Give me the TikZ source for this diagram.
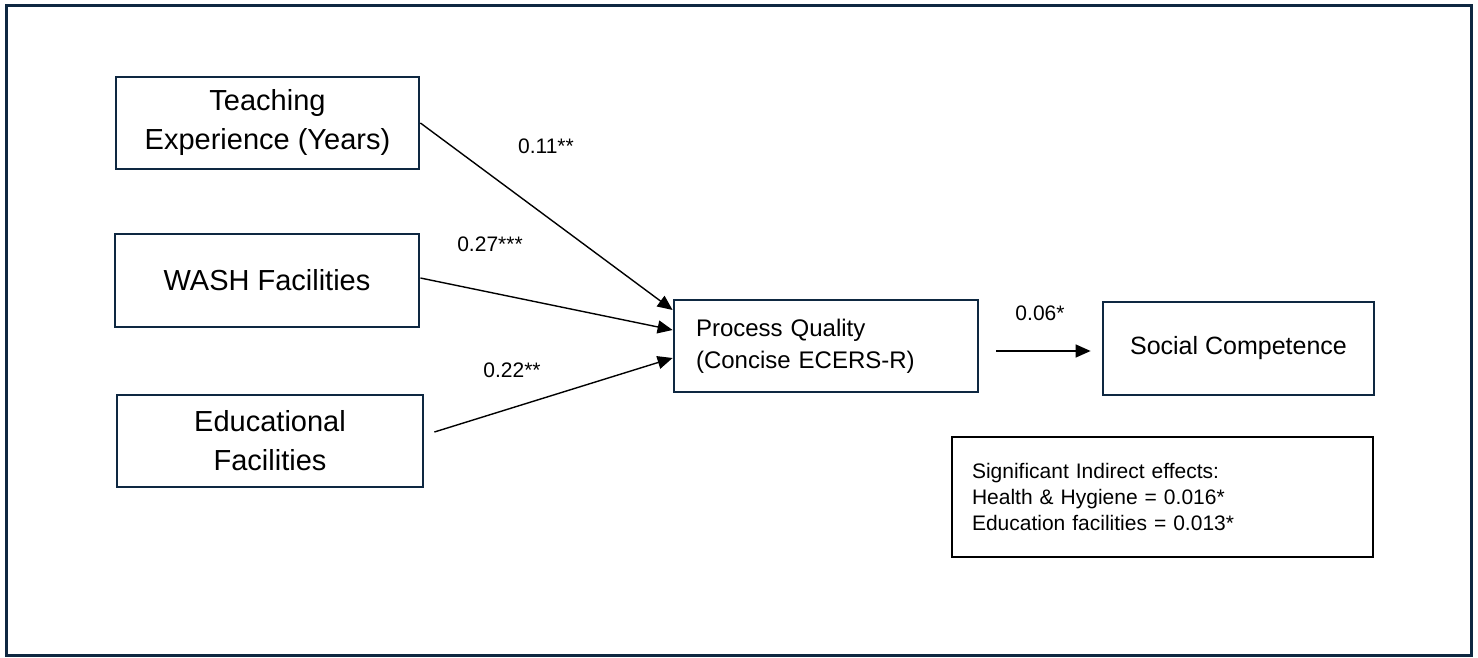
\documentclass[tikz,border=0pt]{standalone}
\usepackage{fontspec}
\setmainfont{Liberation Sans}
\usetikzlibrary{arrows.meta}
\definecolor{navy}{HTML}{0E2841}
\begin{document}
\begin{tikzpicture}[x=1pt,y=-1pt,
  varbox/.style={draw=navy,line width=2.8pt,rectangle,inner sep=0pt,align=center,
    font=\fontsize{29}{39}\selectfont},
  midbox/.style={draw=navy,line width=2.8pt,rectangle,inner sep=0pt,
    font=\fontsize{24}{32}\selectfont},
  path/.style={draw=black,line width=1.4pt,-{Triangle[length=15pt,width=13pt]}},
  coef/.style={font=\fontsize{21}{25}\selectfont,inner sep=0pt}]
  % canvas and outer frame
  \useasboundingbox (0,0) rectangle (1478,658);
  \fill[white] (0,0) rectangle (1478,658);
  \draw[navy,line width=3pt] (6,6) rectangle (1471,655.5);

  % predictors
  \node[varbox,minimum width=303pt,minimum height=92pt] (teach) at (267.5,123) {Teaching\\Experience (Years)};
  \node[varbox,minimum width=304pt,minimum height=93pt] (wash) at (267,280.5) {WASH Facilities};
  \node[varbox,minimum width=306pt,minimum height=92pt] (edu) at (270,441) {Educational\\Facilities};

  % mediator and outcome
  \node[midbox,minimum width=304pt,minimum height=92pt,text width=260pt,align=left,inner xsep=22pt] (pq) at (826,346) {Process Quality\\(Concise ECERS-R)};
  \node[midbox,minimum width=271pt,minimum height=93pt,align=center,font=\fontsize{25}{30}\selectfont] (sc) at (1238.5,348.5) {Social Competence};

  % indirect effects note
  \node[draw=black,line width=1.5pt,minimum width=421pt,minimum height=120pt,text width=381pt,
        inner xsep=20pt,inner ysep=0pt,align=left,font=\fontsize{21}{26}\selectfont] (note) at (1162.5,497)
        {Significant Indirect effects:\\Health \& Hygiene = 0.016*\\Education facilities = 0.013*};

  % paths
  \draw[path] (teach.east) -- ([yshift=36pt]pq.west);
  \draw[path] ([yshift=2.5pt]wash.east) -- ([yshift=16pt]pq.west);
  \draw[path] ([xshift=10pt,yshift=9pt]edu.east) -- ([yshift=-12pt]pq.west);
  \draw[path] ([xshift=17pt,yshift=-5pt]pq.east) -- ([xshift=-11pt,yshift=-2.5pt]sc.west);

  % path coefficients
  \node[coef] (c1) at (546,146) {0.11**};
  \node[coef] (c2) at (490,244) {0.27***};
  \node[coef] (c3) at (512,370) {0.22**};
  \node[coef] (c4) at (1040,313) {0.06*};
\end{tikzpicture}
\end{document}
